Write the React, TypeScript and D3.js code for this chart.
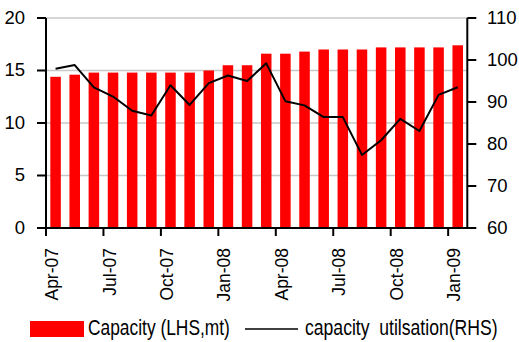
import React from "react";
import * as d3 from "d3";

const months = ["Apr-07","May-07","Jun-07","Jul-07","Aug-07","Sep-07","Oct-07","Nov-07","Dec-07","Jan-08","Feb-08","Mar-08","Apr-08","May-08","Jun-08","Jul-08","Aug-08","Sep-08","Oct-08","Nov-08","Dec-08","Jan-09"];
const capacity = [14.4,14.6,14.8,14.8,14.8,14.8,14.8,14.8,15.0,15.5,15.5,16.6,16.6,16.8,17.0,17.0,17.0,17.2,17.2,17.2,17.2,17.4];
const utilisation = [97.9,98.8,93.5,91.3,87.9,86.8,94.0,89.3,94.5,96.3,95.0,99.2,90.2,89.2,86.4,86.4,77.4,80.9,86.0,83.1,91.7,93.5];
const leftTicks = [0,5,10,15,20];
const rightTicks = [60,70,80,90,100,110];
const labelMonths = ["Apr-07","Jul-07","Oct-07","Jan-08","Apr-08","Jul-08","Oct-08","Jan-09"];

export default function App() {
  const W = 519, H = 342;
  const left = 46, right = 467.3, top = 18, bottom = 228;
  const x = d3.scaleBand<string>().domain(months).range([left, right]).paddingInner(0.45).paddingOuter(0.225);
  const xs = d3.scaleBand<string>().domain(months).range([left, right]);
  const yL = d3.scaleLinear().domain([0, 20]).range([bottom, top]);
  const yR = d3.scaleLinear().domain([60, 110]).range([bottom, top]);
  const line = d3.line<number>().x((_, i) => xs(months[i])! + xs.bandwidth() / 2).y(d => yR(d));
  const font = "'Liberation Sans', Arial, sans-serif";
  const boundaries = months.map((_, i) => i).filter(i => i % 3 === 0).map(i => xs(months[i])!);
  return (
    <svg width={W} height={H} style={{ position: "absolute", left: 0, top: 0 }} fontFamily={font}>
      {leftTicks.filter(t => t > 0).map(t => (
        <line key={t} x1={left} x2={right} y1={yL(t)} y2={yL(t)} stroke="#c8c8c8" strokeWidth={1.6} />
      ))}
      {capacity.map((v, i) => (
        <rect key={i} x={x(months[i])} y={yL(v)} width={x.bandwidth()} height={yL(0) - yL(v)} fill="#ff0000" />
      ))}
      <path d={line(utilisation) || ""} fill="none" stroke="#000" strokeWidth={2} strokeLinejoin="round" />
      <line x1={left} x2={left} y1={top} y2={bottom} stroke="#000" strokeWidth={2} />
      <line x1={right} x2={right} y1={top} y2={bottom} stroke="#000" strokeWidth={2} />
      <line x1={left - 1} x2={right + 1} y1={bottom} y2={bottom} stroke="#000" strokeWidth={2} />
      {leftTicks.map(t => (
        <g key={t}>
          <line x1={left - 9} x2={left} y1={yL(t)} y2={yL(t)} stroke="#000" strokeWidth={2} />
          <text x={25} y={yL(t) + 5.5} textAnchor="end" fontSize={18.5}>{t}</text>
        </g>
      ))}
      {rightTicks.map(t => (
        <g key={t}>
          <line x1={right} x2={right + 9} y1={yR(t)} y2={yR(t)} stroke="#000" strokeWidth={2} />
          <text x={487} y={yR(t) + 5.5} textAnchor="start" fontSize={18.5}>{t}</text>
        </g>
      ))}
      {boundaries.map((bx, i) => (
        <line key={i} x1={bx} x2={bx} y1={bottom} y2={bottom + 8} stroke="#000" strokeWidth={2} />
      ))}
      {labelMonths.map(m => {
        const cx = xs(m)! + xs.bandwidth() / 2 + 2.5;
        return (
          <text key={m} transform={`translate(${cx},248) rotate(-90)`} textAnchor="end" fontSize={17.5}>{m}</text>
        );
      })}
      <rect x={30} y={321} width={54} height={16} fill="#ff0000" />
      <text transform="translate(88,335) scale(0.79,1)" fontSize={22}>Capacity (LHS,mt)</text>
      <line x1={245} x2={298} y1={329} y2={329} stroke="#000" strokeWidth={1.5} />
      <text transform="translate(305,335) scale(0.8,1)" fontSize={22} style={{ whiteSpace: "pre" }}>capacity  utilsation(RHS)</text>
    </svg>
  );
}
